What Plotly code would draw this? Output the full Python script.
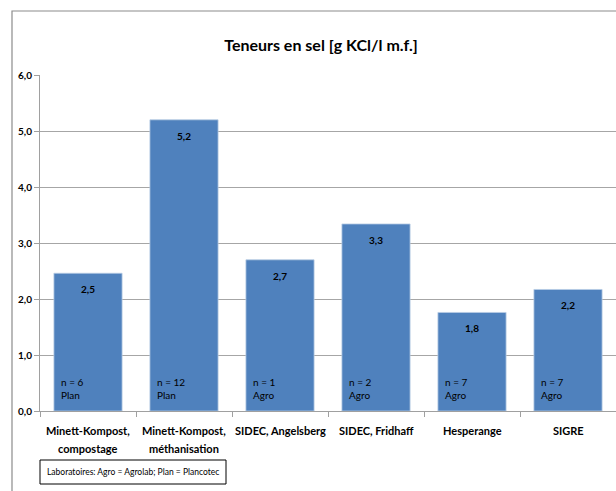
import plotly.graph_objects as go

categories = ["Minett-Kompost,<br>compostage", "Minett-Kompost,<br>méthanisation",
              "SIDEC, Angelsberg", "SIDEC, Fridhaff", "Hesperange", "SIGRE"]
values = [2.46, 5.20, 2.70, 3.34, 1.76, 2.17]
n_counts = [6, 12, 1, 2, 7, 7]
labs = ["Plan", "Plan", "Agro", "Agro", "Agro", "Agro"]
y_ticks = [0, 1, 2, 3, 4, 5, 6]

FONT = "Lato, Open Sans, sans-serif"
W, H = 616, 491
L, R, T, B = 40, 0, 75, 80
PW, PH = W - L - R, H - T - B

def px(x):
    return (x - L) / PW

def py(y):
    return (H - B - y) / PH

x_idx = list(range(len(categories)))

fig = go.Figure()
fig.add_trace(go.Bar(
    x=x_idx, y=values,
    marker=dict(color="#4f81bd", line=dict(color="#b9cde5", width=0.8)),
    width=0.71, hoverinfo="skip",
))

annotations = []
for i, (v, n, lab) in enumerate(zip(values, n_counts, labs)):
    annotations.append(dict(
        x=i, y=v, xref="x", yref="y", text="<b>" + f"{v:.1f}".replace(".", ",") + "</b>",
        showarrow=False, yanchor="top", yshift=-8,
        font=dict(family=FONT, size=10, color="black")))
    annotations.append(dict(
        x=i - 0.355, y=0, xref="x", yref="y", text=f"n = {n}<br>{lab}",
        showarrow=False, xanchor="left", yanchor="bottom", align="left", xshift=5, yshift=8,
        font=dict(family=FONT, size=10, color="black")))
    for k, line in enumerate(categories[i].split("<br>")):
        annotations.append(dict(
            x=i, y=0, xref="x", yref="y", text="<b>" + line + "</b>",
            showarrow=False, xanchor="center", yanchor="middle", yshift=-19 - 18 * k,
            font=dict(family=FONT, size=11, color="black")))

annotations.append(dict(
    x=(px(40) + px(226)) / 2, y=(py(460) + py(484)) / 2, xref="paper", yref="paper",
    text="Laboratoires: Agro = Agrolab; Plan = Plancotec", showarrow=False,
    xanchor="center", yanchor="middle", font=dict(family=FONT, size=8.5, color="black")))

shapes = [
    dict(type="rect", xref="paper", yref="paper", x0=px(12), x1=px(640), y0=py(11), y1=py(520),
         line=dict(color="#8c8c8c", width=1.2), fillcolor="rgba(0,0,0,0)", layer="below"),
    dict(type="rect", xref="paper", yref="paper", x0=px(40), x1=px(226), y0=py(460), y1=py(484),
         line=dict(color="black", width=1), fillcolor="white"),
]

fig.update_layout(
    width=W, height=H,
    margin=dict(l=L, r=R, t=T, b=B, pad=0),
    paper_bgcolor="white", plot_bgcolor="white",
    showlegend=False,
    title=dict(text="<b>Teneurs en sel [g KCl/l m.f.]</b>", x=321 / W, xref="container",
               xanchor="center", y=1 - 45 / H, yref="container", yanchor="middle",
               font=dict(family=FONT, size=16, color="black")),
    xaxis=dict(
        tickmode="array", tickvals=x_idx, showticklabels=False,
        range=[-0.5, len(categories) - 0.5],
        showline=True, linecolor="#a0a0a0", linewidth=1,
        ticks="", showgrid=False, zeroline=False,
        minor=dict(tickvals=[i - 0.5 for i in range(len(categories) + 1)],
                   ticks="outside", ticklen=5, tickcolor="#a0a0a0", showgrid=False),
    ),
    yaxis=dict(
        range=[0, 6], tickvals=y_ticks,
        ticktext=["<b>" + f"{t:.1f}".replace(".", ",") + "</b>" for t in y_ticks],
        tickmode="array",
        showline=True, linecolor="#a0a0a0", linewidth=1,
        ticks="outside", ticklen=5, tickcolor="#a0a0a0",
        showgrid=True, gridcolor="#a6a6a6", gridwidth=1.2, zeroline=False,
        tickfont=dict(family=FONT, size=10, color="black"),
    ),
    annotations=annotations, shapes=shapes,
)

fig.write_html("out.html", config={"displayModeBar": False},
               post_script="document.body.style.margin='0';document.body.style.overflow='hidden';")
